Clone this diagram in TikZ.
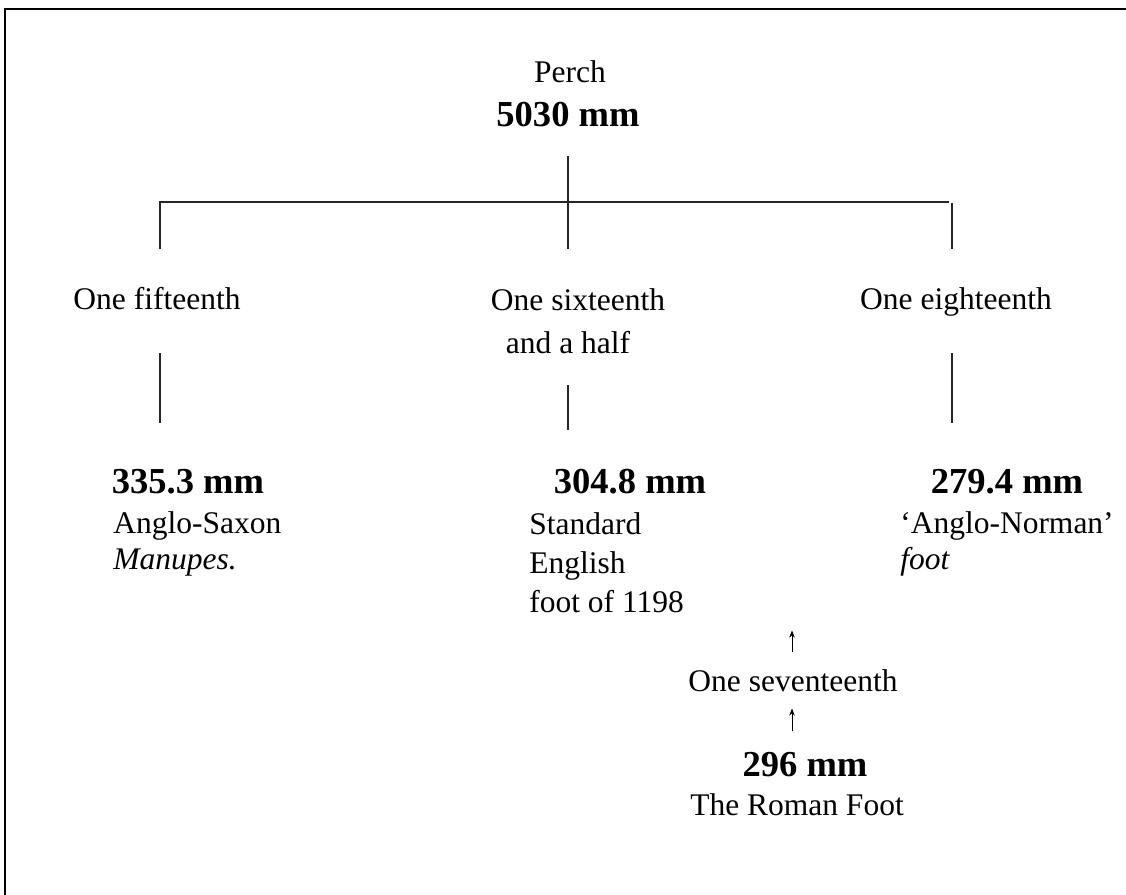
\documentclass[tikz,border=0pt]{standalone}
\usepackage{fontspec}
\setmainfont{Liberation Serif}
\usetikzlibrary{arrows.meta}
\newcommand{\mmsize}{\fontsize{26}{30}\selectfont\bfseries}
\begin{document}
\begin{tikzpicture}[x=0.025cm,y=-0.025cm,>={Stealth[length=5pt,width=4pt]},
		font=\fontsize{22.4}{27.6}\selectfont,
		lbl/.style={inner sep=0pt,anchor=base},
		lft/.style={inner sep=0pt,anchor=base west},
		tree/.style={line width=0.8pt,black!85}]
		\useasboundingbox (0,0) rectangle (1126,895);
		\draw[line width=0.8pt] (1126,9) -- (5,9) -- (5,895);
		% top of the tree
		\node[lbl] (perch) at (570,82) {Perch};
		\node[lbl] (perchmm) at (568,126) {\mmsize 5030 mm};
		\coordinate (stemtop) at (568,156);
		\coordinate (stembot) at (568,249);
		\coordinate (barL) at (160,202);
		\coordinate (barR) at (949,202);
		\coordinate (dropL) at (160,249);
		\coordinate (dropR) at (952,249);
		\draw[tree] (stemtop) -- (stembot);
		\draw[tree] (dropL) -- (barL) -- (barR);
		\draw[tree] (952,203) -- (dropR);
		% fractions
		\node[lbl] (fifteen) at (157,309) {One fifteenth};
		\node[lbl] (sixteen) at (578,310) {One sixteenth};
		\node[lbl] (half) at (568,353) {and a half};
		\node[lbl] (eighteen) at (956,309) {One eighteenth};
		\draw[tree] (160,353) -- (160,423);
		\draw[tree] (568,385) -- (568,430);
		\draw[tree] (952,353) -- (952,423);
		% feet
		\node[lbl] (mmA) at (188,493) {\mmsize 335.3 mm};
		\node[lft] (saxon) at (113,533) {Anglo-Saxon};
		\node[lft] (manupes) at (113,569) {\textit{Manupes.}};
		\node[lbl] (mmB) at (630,493) {\mmsize 304.8 mm};
		\node[lft] (standard) at (529,534) {Standard};
		\node[lft] (english) at (529,573) {English};
		\node[lft] (foot1198) at (529,612) {foot of 1198};
		\node[lbl] (mmC) at (1007,493) {\mmsize 279.4 mm};
		\node[lft] (norman) at (900,533) {‘Anglo-Norman’};
		\node[lft] (footN) at (900,569) {\textit{foot}};
		% roman foot
		\node[lbl] (seventeen) at (793,691) {One seventeenth};
		\node[lbl] (mmD) at (805,776) {\mmsize 296 mm};
		\node[lbl] (roman) at (797,815) {The Roman Foot};
		\draw[->,line width=0.6pt,shorten <=17pt*0.711,shorten >=18pt*0.711] (seventeen.north -| 792,0) -- (foot1198.south -| 792,0);
		\draw[->,line width=0.6pt] (seventeen.south -| 792,0) ++(0,39) -- ++(0,-22);
	\end{tikzpicture}
\end{document}
